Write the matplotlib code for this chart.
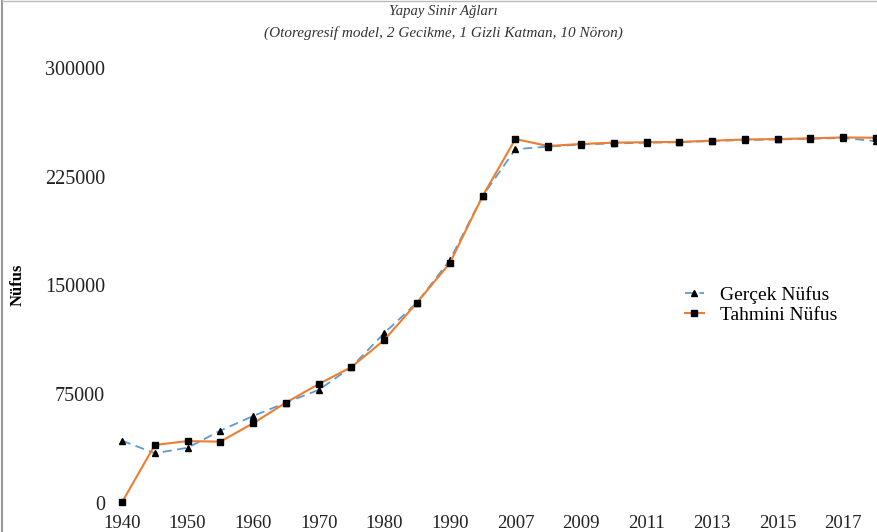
import matplotlib
matplotlib.use('Agg')
import matplotlib.pyplot as plt
from matplotlib.lines import Line2D

plt.rcParams['font.family'] = ['Liberation Serif', 'DejaVu Serif']

# Yıllar (kategori ekseni)
yillar = ['1940', '1945', '1950', '1955', '1960', '1965', '1970', '1975', '1980',
          '1985', '1990', '2000', '2007', '2008', '2009', '2010', '2011', '2012',
          '2013', '2014', '2015', '2016', '2017', '2018']

# Gerçek nüfus
gercek = [43000, 34300, 38100, 49900, 60000, 69200, 78000, 93800, 117200,
          138200, 167500, 211700, 244000, 245800, 247200, 248000, 248500, 248800,
          249600, 250400, 250700, 251200, 251800, 249500]

# Tahmini nüfus
tahmini = [500, 40000, 42700, 42300, 55000, 69200, 82000, 93800, 112400,
           138200, 165500, 211700, 251000, 246200, 247600, 248500, 248800, 249000,
           249900, 250700, 251000, 251500, 252100, 251900]

y_ticks = [0, 75000, 150000, 225000, 300000]

fig = plt.figure(figsize=(8.77, 5.32), dpi=100, facecolor='white')
W, H = 877.0, 532.0
# eksen: 1940 -> x=122px, 2018 -> x=876px ; 0 -> y=503px, 300000 -> y=68px
ax = fig.add_axes([112 / W, (H - 503) / H, (877 - 112) / W, (503 - 68) / H])

x = list(range(len(yillar)))
ax.plot(x, gercek, color='#5B9BD5', lw=1.3, ls=(0, (5, 3)), marker='^',
        ms=4.5, mfc='black', mec='black', label='Gerçek Nüfus', clip_on=False)
ax.plot(x, tahmini, color='#ED7D31', lw=1.5, marker='s',
        ms=4.5, mfc='black', mec='black', label='Tahmini Nüfus', clip_on=False)

step = (876 - 122) / 23.0
ax.set_xlim(-(122 - 112) / step, 23 + 1 / step)
ax.set_ylim(0, 300000)

ax.set_xticks(x[::2])
ax.set_xticklabels(yillar[::2])
ax.set_yticks(y_ticks)
ax.set_yticklabels([str(v) for v in y_ticks])
ax.tick_params(length=0, colors='#222222')
ax.tick_params(axis='x', pad=9, labelsize=13.5)
ax.tick_params(axis='y', pad=5, labelsize=14.5)
for s in ax.spines.values():
    s.set_visible(False)

fig.text(18 / W, 1 - 285 / H, 'Nüfus', rotation=90, ha='center', va='center',
         fontsize=12, fontweight='bold')

fig.text(443 / W, 1 - 12 / H, 'Yapay Sinir Ağları', ha='center', va='center',
         fontsize=10.5, style='italic', color='#333333')
fig.text(443 / W, 1 - 33 / H, '(Otoregresif model, 2 Gecikme, 1 Gizli Katman, 10 Nöron)',
         ha='center', va='center', fontsize=11, style='italic', color='#333333')

ax.legend(loc='center left', bbox_to_anchor=(667 / W, 1 - 305 / H),
          bbox_transform=fig.transFigure, frameon=False, fontsize=14,
          handlelength=1.0, handletextpad=0.8, labelspacing=0.1)

# gri çerçeve (sol ve üst)
fig.add_artist(Line2D([2 / W, 2 / W], [0, 1 - 1 / H], color='#999999', lw=1.5,
                      transform=fig.transFigure))
fig.add_artist(Line2D([2 / W, 1], [1 - 1 / H, 1 - 1 / H], color='#bbbbbb', lw=1.0,
                      transform=fig.transFigure))

fig.savefig('out.png', dpi=100)
